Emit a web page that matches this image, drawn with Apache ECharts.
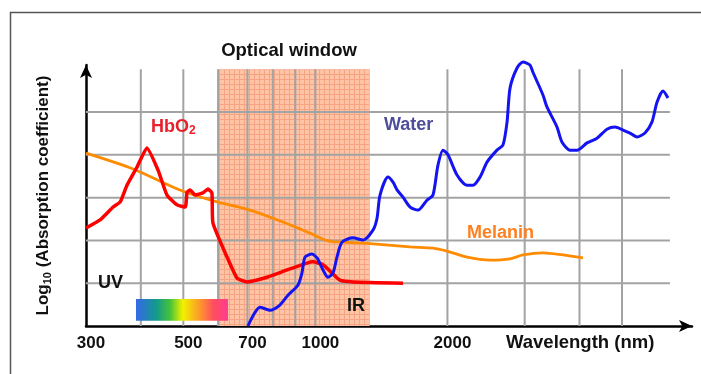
<!DOCTYPE html>
<html><head><meta charset="utf-8">
<script src="https://cdn.jsdelivr.net/npm/echarts@6/dist/echarts.min.js"></script>
<style>html,body{margin:0;padding:0;background:#fff}#c{width:701px;height:374px}</style>
</head><body><div id="c"></div>
<script>
// ---- data (wavelength in nm, log10 absorption coefficient, arbitrary units) ----
const tickLabels = [300, 500, 700, 1000, 2000];
const gridWavelengths = [400, 500, 600, 700, 800, 900, 1000, 2000, 3000, 4000, 5000];
const gridLevels = [1, 2, 3, 4, 5];
const xMinNm = 300, xMaxNm = 7220, gridEndNm = 6430, yMax = 6.1, gridTop = 6;

const hbo2Wavelength = [300,323,346,359,372,392,413,438,459,484,505,510,518,532,554,569,581,584,629,663,698,776,862,957,987,1041,1091,1138,1218,1584];
const hbo2Abs        = [2.29,2.48,2.78,2.90,3.29,3.71,4.16,3.64,3.06,2.83,2.78,3.13,3.18,3.06,3.11,3.20,3.11,2.41,1.61,1.12,1.03,1.14,1.31,1.47,1.50,1.43,1.24,1.07,1.03,1.00];

const waterWavelength = [702,748,788,830,866,913,932,947,982,1009,1041,1068,1097,1120,1150,1218,1284,1353,1382,1404,1464,1503,1535,1584,1644,1714,1796,1854,1903,1954,2006,2103,2216,2287,2373,2462,2594,2677,2735,2778,2882,2973,3084,3133,3302,3372,3555,3648,3806,3949,4162,4386,4621,4819,5026,5214,5410,5641,5853,6008,6201,6364];
const waterAbs        = [0,0.44,0.37,0.49,0.72,0.96,1.24,1.61,1.68,1.59,1.31,1.14,1.24,1.61,1.96,2.06,2.01,2.24,2.52,3.06,3.48,3.36,3.18,3.01,2.78,2.71,2.94,3.06,3.76,4.11,4.00,3.53,3.29,3.29,3.48,3.83,4.11,4.23,4.77,5.56,6.03,6.17,6.10,5.93,5.40,5.12,4.65,4.30,4.11,4.11,4.28,4.39,4.60,4.65,4.58,4.51,4.42,4.51,4.77,5.23,5.49,5.33];

const melaninWavelength = [300,384,491,597,709,844,972,1068,1156,1353,1644,1854,1995,2216,2501,2778,2973,3302,3668,4075];
const melaninAbs        = [4.04,3.67,3.18,2.90,2.71,2.43,2.17,1.99,1.96,1.92,1.85,1.82,1.75,1.61,1.54,1.57,1.66,1.71,1.66,1.59];

const opticalWindow = [600, 1330, 0, 6];       // nm from, nm to, y from, y to
const visibleBand   = [390, 632, 0.12, 0.63];

// ---- helpers ----
const L = Math.log10;
const toPts = (w, a) => w.map((v, i) => [L(v), a[i]]);
const FONT = '"Liberation Sans", Arial, Helvetica, sans-serif';

const pc = document.createElement('canvas');
pc.width = 5; pc.height = 5;
const g = pc.getContext('2d');
g.fillStyle = '#fdc5a6'; g.fillRect(0, 0, 5, 5);
g.fillStyle = '#f6a383'; g.fillRect(4, 0, 1, 5); g.fillRect(0, 4, 5, 1);

const rectItem = (fillFn) => (params, api) => {
  const p1 = api.coord([api.value(0), api.value(3)]);
  const p2 = api.coord([api.value(1), api.value(2)]);
  return { type: 'rect', shape: { x: p1[0], y: p1[1], width: p2[0] - p1[0], height: p2[1] - p1[1] }, style: { fill: fillFn() } };
};

const series = [];
series.push({
  type: 'custom', z: 1, silent: true, clip: false,
  data: [[L(opticalWindow[0]), L(opticalWindow[1]), opticalWindow[2], opticalWindow[3]]],
  renderItem: rectItem(() => ({ image: pc, repeat: 'repeat' }))
});
gridWavelengths.forEach(w => series.push({
  type: 'line', z: 2, silent: true, symbol: 'none',
  lineStyle: { color: '#a3a3a3', width: 2 },
  data: [[L(w), 0], [L(w), gridTop]]
}));
gridLevels.forEach(v => series.push({
  type: 'line', z: 2, silent: true, symbol: 'none',
  lineStyle: { color: '#a3a3a3', width: 2 },
  data: [[L(xMinNm), v], [L(gridEndNm), v]]
}));
series.push({
  type: 'custom', z: 3, silent: true,
  data: [[L(visibleBand[0]), L(visibleBand[1]), visibleBand[2], visibleBand[3]]],
  renderItem: rectItem(() => new echarts.graphic.LinearGradient(0, 0, 1, 0, [
    { offset: 0, color: '#3568ea' }, { offset: 0.22, color: '#139a8c' },
    { offset: 0.37, color: '#45c23a' }, { offset: 0.51, color: '#f2f200' },
    { offset: 0.69, color: '#fd9a2a' }, { offset: 0.84, color: '#ff4f5e' },
    { offset: 1, color: '#ff3c8e' }]))
});
series.push({ name: 'Melanin', type: 'line', z: 4, symbol: 'none', smooth: 0.3, clip: false,
  lineStyle: { color: '#ff8c00', width: 2.8 }, data: toPts(melaninWavelength, melaninAbs) });
series.push({ name: 'HbO2', type: 'line', z: 5, symbol: 'none', smooth: 0.15, clip: false,
  lineStyle: { color: '#ff0000', width: 3.5 }, data: toPts(hbo2Wavelength, hbo2Abs) });
series.push({ name: 'Water', type: 'line', z: 5, symbol: 'none', smooth: 0.25, clip: false,
  lineStyle: { color: '#1414f0', width: 3 }, data: toPts(waterWavelength, waterAbs) });

const txt = (text, x, y, color, size, align) => ({
  type: 'text', z: 100, silent: true,
  style: { text, x, y, fill: color, font: 'bold ' + size + 'px ' + FONT, textAlign: align || 'left', textVerticalAlign: 'middle' }
});

const chart = echarts.init(document.getElementById('c'));
chart.setOption({
  animation: false,
  backgroundColor: '#fff',
  grid: { left: 86, top: 65, right: 9, bottom: 48 },
  xAxis: {
    type: 'value', min: L(xMinNm), max: L(xMaxNm),
    axisLine: { show: true, symbol: ['none', 'arrow'], symbolSize: [9, 13], lineStyle: { color: '#000', width: 2.5 } },
    axisTick: { show: false }, splitLine: { show: false },
    axisLabel: {
      customValues: tickLabels.map(L),
      formatter: v => String(Math.round(Math.pow(10, v))),
      fontFamily: FONT, fontSize: 17, fontWeight: 'bold', color: '#111', margin: 9, padding: [0, 0, 0, 10]
    }
  },
  yAxis: {
    type: 'value', min: 0, max: yMax,
    axisLine: { show: true, symbol: ['none', 'arrow'], symbolSize: [9, 13], lineStyle: { color: '#000', width: 2.5 } },
    axisTick: { show: false }, splitLine: { show: false }, axisLabel: { show: false },
    name: '{a|Log}{s|10}{a| (Absorption coefficient)}',
    nameLocation: 'middle', nameRotate: 90, nameGap: 33,
    nameTextStyle: {
      rich: {
        a: { fontFamily: FONT, fontSize: 17, fontWeight: 'bold', color: '#111', lineHeight: 20 },
        s: { fontFamily: FONT, fontSize: 11, fontWeight: 'bold', color: '#111', lineHeight: 12, verticalAlign: 'bottom' }
      }
    }
  },
  graphic: [
    { type: 'polyline', silent: true, z: 100, shape: { points: [[10.5, 400], [10.5, 12.5], [720, 12.5]] }, style: { stroke: '#555', lineWidth: 1.5, fill: null } },
    txt('Optical window', 289, 51, '#111', 18.5, 'center'),
    txt('HbO', 151, 127, '#e8202c', 18),
    txt('2', 189, 131, '#e8202c', 12),
    txt('Water', 384, 125, '#4d4d9c', 18),
    txt('Melanin', 467, 233, '#ff8020', 18),
    txt('UV', 98, 283, '#111', 18),
    txt('IR', 347, 306, '#111', 18),
    txt('Wavelength (nm)', 506, 343, '#111', 18.5)
  ],
  series
});
</script>
</body></html>
